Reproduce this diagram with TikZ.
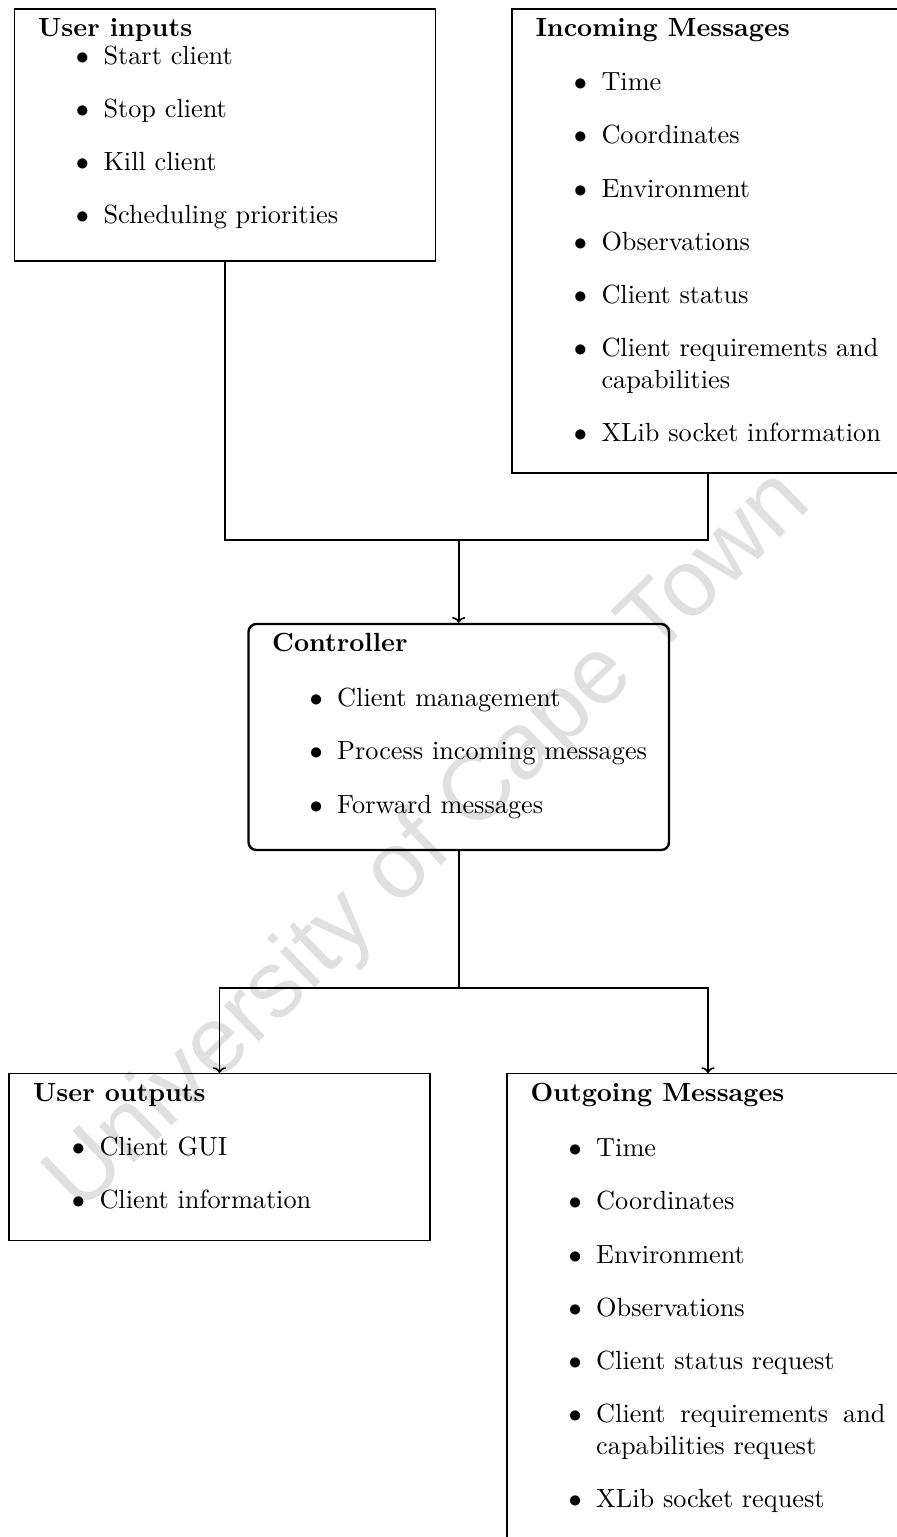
\documentclass[tikz,border=0pt]{standalone}
\usepackage{fontspec}
\newfontfamily\markfont{Liberation Sans}
\usetikzlibrary{arrows.meta}

% one drawing unit = 0.3806pt
\def\pxlen{0.3806}

\tikzset{
  box/.style={draw=black, line width=0.4pt, rectangle, inner sep=0pt},
  ctrlbox/.style={draw=black, line width=0.9pt, rectangle, rounded corners=3pt, inner sep=0pt},
  conn/.style={draw=black, line width=0.6pt},
  arr/.style={conn, -{To[length=2.2pt,width=5pt]}},
  title/.style={anchor=base west, inner sep=0pt, font=\bfseries},
  entry/.style={anchor=base west, inner sep=0pt},
  wmtext/.style={text=black!12, font=\markfont\fontsize{36}{40}\selectfont, inner sep=0pt}
}
\newcommand\bul[1]{\llap{$\bullet$\hspace{5.5pt}}#1}

\begin{document}
\begin{tikzpicture}[x=\pxlen pt, y=-\pxlen pt]
  \useasboundingbox (0,0) rectangle (897,1537);
  \clip (0,0) rectangle (897,1537);

  % background lettering
  \node[wmtext, rotate=44] (wm) at (430,843) {University of Cape Town};

  % boxes
  \node[box, minimum width=421*\pxlen pt, minimum height=252*\pxlen pt] (ui) at (225,135) {};
  \node[box, minimum width=392*\pxlen pt, minimum height=464*\pxlen pt] (in) at (708,241) {};
  \node[ctrlbox, minimum width=420.5*\pxlen pt, minimum height=226*\pxlen pt] (ctrl) at (458.75,737) {};
  \node[box, minimum width=421*\pxlen pt, minimum height=167*\pxlen pt] (uo) at (219.5,1157) {};
  \node[box, minimum width=402*\pxlen pt, minimum height=486.5*\pxlen pt] (out) at (708,1316.75) {};

  % User inputs
  \node[title] (ui-t) at (37.7,36) {User inputs};
  \node[entry] (ui-1) at (103,64) {\bul{Start client}};
  \node[entry] (ui-2) at (103,117.5) {\bul{Stop client}};
  \node[entry] (ui-3) at (103,170.5) {\bul{Kill client}};
  \node[entry] (ui-4) at (103,223) {\bul{Scheduling priorities}};

  % Incoming Messages
  \node[title] (in-t) at (535,36.7) {Incoming Messages};
  \node[entry] (in-1) at (601,90.7) {\bul{Time}};
  \node[entry] (in-2) at (601,143.9) {\bul{Coordinates}};
  \node[entry] (in-3) at (601,197.1) {\bul{Environment}};
  \node[entry] (in-4) at (601,250.3) {\bul{Observations}};
  \node[entry] (in-5) at (601,303.5) {\bul{Client status}};
  \node[entry] (in-6) at (601,356.7) {\bul{Client requirements and}};
  \node[entry] (in-6b) at (601,388.2) {capabilities};
  \node[entry] (in-7) at (601,441.4) {\bul{XLib socket information}};

  % Controller
  \node[title] (ctrl-t) at (271.7,651.7) {Controller};
  \node[entry] (ctrl-1) at (336.7,706.7) {\bul{Client management}};
  \node[entry] (ctrl-2) at (336.7,759.9) {\bul{Process incoming messages}};
  \node[entry] (ctrl-3) at (336.7,813.1) {\bul{Forward messages}};

  % User outputs
  \node[title] (uo-t) at (32.7,1101.7) {User outputs};
  \node[entry] (uo-1) at (99,1155) {\bul{Client GUI}};
  \node[entry] (uo-2) at (99,1208.2) {\bul{Client information}};

  % Outgoing Messages
  \node[title] (out-t) at (530,1101.7) {Outgoing Messages};
  \node[entry] (out-1) at (595.7,1156.7) {\bul{Time}};
  \node[entry] (out-2) at (595.7,1209.9) {\bul{Coordinates}};
  \node[entry] (out-3) at (595.7,1263.1) {\bul{Environment}};
  \node[entry] (out-4) at (595.7,1316.3) {\bul{Observations}};
  \node[entry] (out-5) at (595.7,1369.5) {\bul{Client status request}};
  \node[entry] (out-6) at (595.7,1422.7) {\bul{\makebox[110.1pt][s]{Client requirements and}}};
  \node[entry] (out-6b) at (595.7,1454.2) {capabilities request};
  \node[entry] (out-7) at (595.7,1507.4) {\bul{XLib socket request}};

  % junction points of the connectors
  \coordinate (j1) at (ctrl.north |- 0,540);
  \coordinate (j2) at (ctrl.south |- 0,988);

  % connectors
  \draw[conn] (ui.south) |- (j1) -| (in.south);
  \draw[arr] (j1) -- (ctrl.north);
  \draw[conn] (ctrl.south) -- (j2);
  \draw[arr] (j2) -| (uo.north);
  \draw[arr] (j2) -| (out.north);
\end{tikzpicture}
\end{document}
